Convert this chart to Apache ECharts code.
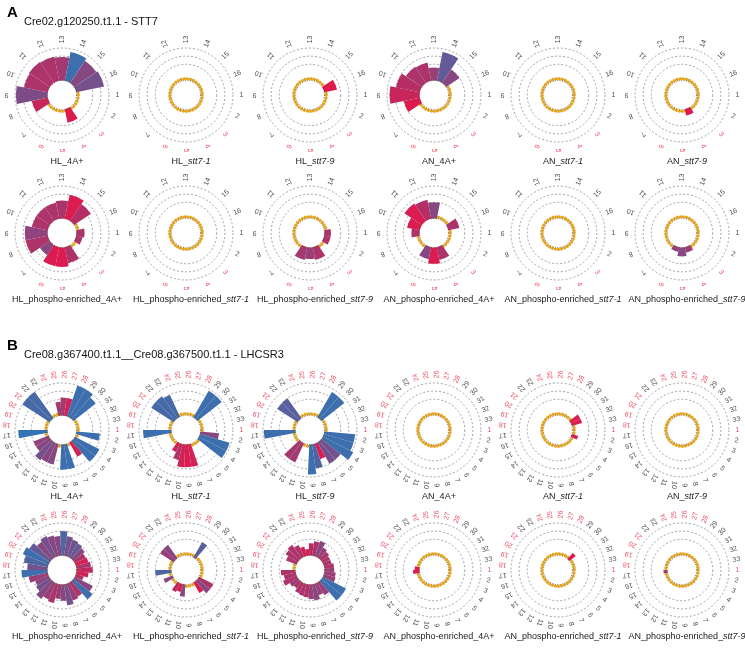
<!DOCTYPE html>
<html><head><meta charset="utf-8">
<script src="https://cdn.jsdelivr.net/npm/echarts@6/dist/echarts.min.js"></script>
<style>html,body{margin:0;padding:0;background:#fff}#c{width:745px;height:663px}</style>
</head><body><div id="c"></div>
<script>
// ---- categories (site labels) ----
const catsA = ['1','2','3','4','5','6','7','8','9','10','11','12','13','14','15','16'];
const catsB = ['1','2','3','4','5','6','7','8','9','10','11','12','13','14','15','16','17','18','19','20','21','22','23','24','25','26','27','28','29','30','31','32','33'];
const redA = ['3','4','5','6'];
const redB = ['1','18','19','20','21','24','25','26','27','28'];

// ---- section A values (one per site) and colour score (0 red .. 1 blue) ----
const A_HL_4A      = [0,0,0,1.7,0,0,0,2.0,3.9,3.0,3.1,3.0,2.9,3.6,3.3,3.5];
const A_HL_4A_c    = [0,0,0,0.03,0,0,0,0.15,0.55,0.3,0.3,0.3,0.35,0.9,0.5,0.6];
const A_HL_71      = [0,0,0,0,0,0,0,0,0,0,0,0,0,0,0,0];
const A_HL_71_c    = [0,0,0,0,0,0,0,0,0,0,0,0,0,0,0,0];
const A_HL_79      = [0,0,0,0,0,0,0,0,0,0,0,0,0,0,0,1.6];
const A_HL_79_c    = [0,0,0,0,0,0,0,0,0,0,0,0,0,0,0,0.02];
const A_AN_4A      = [0,0,0,0,0,0,0,2.0,3.7,3.0,2.4,2.3,1.6,3.6,2.0,0];
const A_AN_4A_c    = [0,0,0,0,0,0,0,0.05,0.15,0.25,0.3,0.3,0.4,0.7,0.5,0];
const A_AN_71      = [0,0,0,0,0,0,0,0,0,0,0,0,0,0,0,0];
const A_AN_71_c    = [0,0,0,0,0,0,0,0,0,0,0,0,0,0,0,0];
const A_AN_79      = [0,0,0,0.8,0,0,0,0,0,0,0,0,0,0,0,0];
const A_AN_79_c    = [0,0,0,0.02,0,0,0,0,0,0,0,0,0,0,0,0];
const A_HLp_4A     = [1.0,0.8,0,2.0,2.4,2.4,1.5,2.8,2.8,2.0,2.0,2.0,2.2,3.0,2.5,0];
const A_HLp_4A_c   = [0.3,0.3,0,0.3,0.05,0.05,0.5,0.3,0.45,0.3,0.3,0.3,0.3,0.05,0.25,0];
const A_HLp_71     = [0,0,0,0,0,0,0,0,0,0,0,0,0,0,0,0];
const A_HLp_71_c   = [0,0,0,0,0,0,0,0,0,0,0,0,0,0,0,0];
const A_HLp_79     = [0.8,0.8,0,1.6,1.4,1.6,0,0,0,0,0,0,0,0,0,0];
const A_HLp_79_c   = [0.3,0.3,0,0.3,0.4,0.35,0,0,0,0,0,0,0,0,0,0];
const A_ANp_4A     = [0,0,0,1.6,2.0,1.5,0,0,1.0,1.6,2.6,2.4,2.0,0,0,1.4];
const A_ANp_4A_c   = [0,0,0,0.3,0.05,0.5,0,0,0.3,0.05,0.05,0.25,0.5,0,0,0.3];
const A_ANp_71     = [0,0,0,0,0,0,0,0,0,0,0,0,0,0,0,0];
const A_ANp_71_c   = [0,0,0,0,0,0,0,0,0,0,0,0,0,0,0,0];
const A_ANp_79     = [0,0,0,0.7,1.1,0.6,0,0,0,0,0,0,0,0,0,0];
const A_ANp_79_c   = [0,0,0,0.4,0.5,0.45,0,0,0,0,0,0,0,0,0,0];

// ---- section B values ----
const B_HL_4A   = [0,2.9,0,3.4,3.4,2.0,0,3.1,3.1,0,2.6,2.6,2.8,2.0,2.0,0,3.6,0,0,0,4.0,4.0,0,0,1.7,2.2,2.2,4.0,4.0,3.5,0,0,0];
const B_HL_4A_c = [0,0.9,0,0.9,0.9,0.1,0,0.9,0.9,0,0.5,0.5,0.6,0.5,0.45,0,0.95,0,0,0,0.85,0.85,0,0,0.35,0.35,0.1,0.9,0.9,0.9,0,0,0];
const B_HL_71   = [0,2.3,3.8,3.8,0,0,0,2.8,2.8,2.8,2.0,1.2,0,0,0,0,3.5,0,0,0,3.3,3.3,3.0,0,0,0,0,0,3.8,3.8,0,0,0];
const B_HL_71_c = [0,0.5,0.9,0.9,0,0,0,0.1,0.05,0.1,0.3,0.05,0,0,0,0,0.9,0,0,0,0.85,0.85,0.85,0,0,0,0,0,0.9,0.9,0,0,0];
const B_HL_79   = [0,3.8,3.8,4.2,3.0,3.0,2.0,3.0,3.7,0,0,2.6,2.6,0,0,0,3.9,0,0,0,3.0,3.0,0,0,0,0,0,0,3.6,3.6,0,0,0];
const B_HL_79_c = [0,0.9,0.9,0.9,0.6,0.6,0.05,0.8,0.9,0,0,0.35,0.35,0,0,0,0.9,0,0,0,0.75,0.75,0,0,0,0,0,0,0.9,0.9,0,0,0];
const B_AN_4A   = [0,0,0,0,0,0,0,0,0,0,0,0,0,0,0,0,0,0,0,0,0,0,0,0,0,0,0,0,0,0,0,0,0];
const B_AN_4A_c = [0,0,0,0,0,0,0,0,0,0,0,0,0,0,0,0,0,0,0,0,0,0,0,0,0,0,0,0,0,0,0,0,0];
const B_AN_71   = [0,0,0.8,0,0,0,0,0,0,0,0,0,0,0,0,0,0,0,0,0,0,0,0,0,0,0,0,0,0,0,1.3,1.3,0];
const B_AN_71_c = [0,0,0.05,0,0,0,0,0,0,0,0,0,0,0,0,0,0,0,0,0,0,0,0,0,0,0,0,0,0,0,0.05,0.05,0];
const B_AN_79   = [0,0,0,0,0,0,0,0,0,0,0,0,0,0,0,0,0,0,0,0,0,0,0,0,0,0,0,0,0,0,0,0,0];
const B_AN_79_c = [0,0,0,0,0,0,0,0,0,0,0,0,0,0,0,0,0,0,0,0,0,0,0,0,0,0,0,0,0,0,0,0,0];
const B_HLp_4A   = [2.0,1.5,1.0,2.5,3.0,2.0,2.2,2.6,2.0,1.8,2.4,2.2,2.6,2.0,1.8,2.4,3.2,2.5,3.0,3.4,3.0,2.5,2.8,2.6,2.4,3.0,2.4,2.2,2.0,1.8,1.5,1.6,1.8];
const B_HLp_4A_c = [0.2,0.1,0.3,0.5,0.9,0.3,0.4,0.6,0.5,0.4,0.3,0.4,0.5,0.6,0.5,0.4,0.9,0.6,0.8,0.9,0.7,0.5,0.6,0.5,0.5,0.8,0.6,0.6,0.7,0.5,0.3,0.1,0.3];
const B_HLp_71   = [0,0,0,2.0,2.0,1.5,0,0,0,1.5,1.0,1.2,0,0,1.2,0,2.0,0,0,0,2.0,2.0,0,0,0,0,0,0,2.2,0,0,0,0];
const B_HLp_71_c = [0,0,0,0.3,0.5,0.05,0,0,0,0.5,0.05,0.2,0,0,0.5,0,0.8,0,0,0,0.4,0.5,0,0,0,0,0,0,0.75,0,0,0,0];
const B_HLp_79   = [1.2,1.4,1.5,3.2,3.2,1.8,1.5,2.0,1.8,1.6,1.5,1.4,1.0,1.2,1.8,1.5,1.8,0,0,1.4,1.8,2.0,1.6,1.2,0.8,1.5,1.8,2.0,1.4,1.2,1.0,1.0,1.2];
const B_HLp_79_c = [0.4,0.4,0.4,0.9,0.9,0.4,0.4,0.5,0.4,0.3,0.3,0.3,0.3,0.4,0.3,0.3,0.3,0,0,0.3,0.3,0.3,0.3,0.1,0.1,0.2,0.3,0.5,0.4,0.3,0.3,0.3,0.3];
const B_ANp_4A   = [0,0,0,0,0,0,0,0,0,0,0,0,0,0,0,0,0.8,0.6,0,0,0,0,0,0,0,0,0,0,0,0,0,0,0];
const B_ANp_4A_c = [0,0,0,0,0,0,0,0,0,0,0,0,0,0,0,0,0.05,0.05,0,0,0,0,0,0,0,0,0,0,0,0,0,0,0];
const B_ANp_71   = [0,0,0,0,0,0,0,0,0,0,0,0,0,0,0,0,0,0,0,0,0,0,0,0,0,0,0,0,0,1.0,0,0,0];
const B_ANp_71_c = [0,0,0,0,0,0,0,0,0,0,0,0,0,0,0,0,0,0,0,0,0,0,0,0,0,0,0,0,0,0.05,0,0,0];
const B_ANp_79   = [0,0,0,0,0,0,0,0,0,0,0,0,0,0,0,0,0.5,0,0,0,0,0,0,0,0,0,0,0,0,0,0,0,0];
const B_ANp_79_c = [0,0,0,0,0,0,0,0,0,0,0,0,0,0,0,0,0.4,0,0,0,0,0,0,0,0,0,0,0,0,0,0,0,0];

// ---- panel titles: [plain prefix, suffix, suffix italic?] ----
const panelNames = [
  ['HL_','4A+',false],['HL_','stt7-1',true],['HL_','stt7-9',true],['AN_','4A+',false],['AN_','stt7-1',true],['AN_','stt7-9',true],
  ['HL_phospho-enriched_','4A+',false],['HL_phospho-enriched_','stt7-1',true],['HL_phospho-enriched_','stt7-9',true],
  ['AN_phospho-enriched_','4A+',false],['AN_phospho-enriched_','stt7-1',true],['AN_phospho-enriched_','stt7-9',true]
];
const sectionTitles = ['Cre02.g120250.t1.1 - STT7','Cre08.g367400.t1.1__Cre08.g367500.t1.1 - LHCSR3'];
const sectionLetters = ['A','B'];

const panelData = [
  [A_HL_4A,A_HL_4A_c],[A_HL_71,A_HL_71_c],[A_HL_79,A_HL_79_c],[A_AN_4A,A_AN_4A_c],[A_AN_71,A_AN_71_c],[A_AN_79,A_AN_79_c],
  [A_HLp_4A,A_HLp_4A_c],[A_HLp_71,A_HLp_71_c],[A_HLp_79,A_HLp_79_c],[A_ANp_4A,A_ANp_4A_c],[A_ANp_71,A_ANp_71_c],[A_ANp_79,A_ANp_79_c],
  [B_HL_4A,B_HL_4A_c],[B_HL_71,B_HL_71_c],[B_HL_79,B_HL_79_c],[B_AN_4A,B_AN_4A_c],[B_AN_71,B_AN_71_c],[B_AN_79,B_AN_79_c],
  [B_HLp_4A,B_HLp_4A_c],[B_HLp_71,B_HLp_71_c],[B_HLp_79,B_HLp_79_c],[B_ANp_4A,B_ANp_4A_c],[B_ANp_71,B_ANp_71_c],[B_ANp_79,B_ANp_79_c]
];

// ---- layout ----
const colX = [62,186,310,434,558,682];
const rowY = [95,233,430,570];
const R_IN = 14.5, R_OUT = 47, AX_MAX = 4, LABEL_V = 5.05;
const FONT = 'Liberation Sans, Arial, Helvetica, sans-serif';
const RED = [227,23,74], BLUE = [42,120,184];
function mix(t){
  const c = RED.map((r,i)=>Math.round(r+(BLUE[i]-r)*t));
  return 'rgb('+c.join(',')+')';
}

const option = {animation:false, backgroundColor:'#fff', title:[], polar:[], angleAxis:[], radiusAxis:[], series:[]};
const hide = {axisLine:{show:false},axisTick:{show:false},axisLabel:{show:false},splitLine:{show:false}};

sectionLetters.forEach((L,s)=>{
  const y0 = s===0 ? 0 : 333;
  option.title.push({text:L,left:2,top:y0,textStyle:{fontSize:15,fontWeight:'bold',color:'#000',fontFamily:FONT}});
  option.title.push({text:sectionTitles[s],left:19,top:y0+11,textStyle:{fontSize:11,fontWeight:'normal',color:'#111',fontFamily:FONT}});
});

panelData.forEach((pd,k)=>{
  const sec = k<12 ? 0 : 1;
  const cats = sec===0 ? catsA : catsB;
  const reds = sec===0 ? redA : redB;
  const n = cats.length;
  const cx = colX[k%6], cy = rowY[Math.floor(k/6)];
  const vals = pd[0], cols = pd[1];
  const b = option.polar.length;
  // main polar (bars + dashed circles)
  option.polar.push({center:[cx,cy],radius:[R_IN,R_OUT]});
  option.angleAxis.push(Object.assign({polarIndex:b,type:'category',data:cats,startAngle:180/n,clockwise:true,boundaryGap:true,z:1},hide));
  option.radiusAxis.push({polarIndex:b,type:'value',min:0,max:AX_MAX,interval:1,axisLine:{show:false},axisTick:{show:false},axisLabel:{show:false},
    splitLine:{show:true,lineStyle:{color:['rgba(0,0,0,0)','rgba(0,0,0,0)','#8c8c8c','#8c8c8c','#8c8c8c'],type:[2,2],width:0.8}}});
  // gold ring
  option.polar.push({center:[cx,cy],radius:[0,16.3]});
  option.angleAxis.push({polarIndex:b+1,type:'value',min:0,max:360,z:0,axisLine:{show:true,lineStyle:{color:'#e3a521',width:3.2,cap:'round',type:[0.01,3.1]}},axisTick:{show:false},axisLabel:{show:false},splitLine:{show:false}});
  option.radiusAxis.push({polarIndex:b+1,show:false});
  // dark dotted inner edge
  option.polar.push({center:[cx,cy],radius:[0,14.6]});
  option.angleAxis.push({polarIndex:b+2,type:'value',min:0,max:360,z:6,axisLine:{show:true,lineStyle:{color:'#5a4a30',width:0.8,type:[1,1.5]}},axisTick:{show:false},axisLabel:{show:false},splitLine:{show:false}});
  option.radiusAxis.push({polarIndex:b+2,show:false});

  option.series.push({type:'bar',coordinateSystem:'polar',polarIndex:b,clip:false,silent:true,barCategoryGap:'0%',z:2,
    data:vals.map((v,i)=>v>0?{value:v,itemStyle:{color:mix(cols[i])}}:'-')});
  option.series.push({type:'scatter',coordinateSystem:'polar',polarIndex:b,clip:false,silent:true,symbolSize:0,z:3,
    data:cats.map((c,i)=>({value:[LABEL_V,i],label:{rotate:-i*360/n,color:reds.indexOf(c)>=0?'#e8233f':'#222'}})),
    label:{show:true,position:'inside',fontSize:7,fontFamily:FONT,formatter:p=>cats[p.dataIndex]}});
  const nm = panelNames[k%12];
  option.title.push({text:'{n|'+nm[0]+'}{'+(nm[2]?'i':'n')+'|'+nm[1]+'}',left:cx,top:cy+57,textAlign:'center',
    textStyle:{fontSize:9,fontWeight:'normal',rich:{n:{fontSize:9,color:'#222',fontFamily:FONT},i:{fontSize:9,color:'#222',fontStyle:'italic',fontFamily:FONT}}}});
});

const chart = echarts.init(document.getElementById('c'),null,{renderer:'canvas'});
chart.setOption(option);
</script></body></html>
